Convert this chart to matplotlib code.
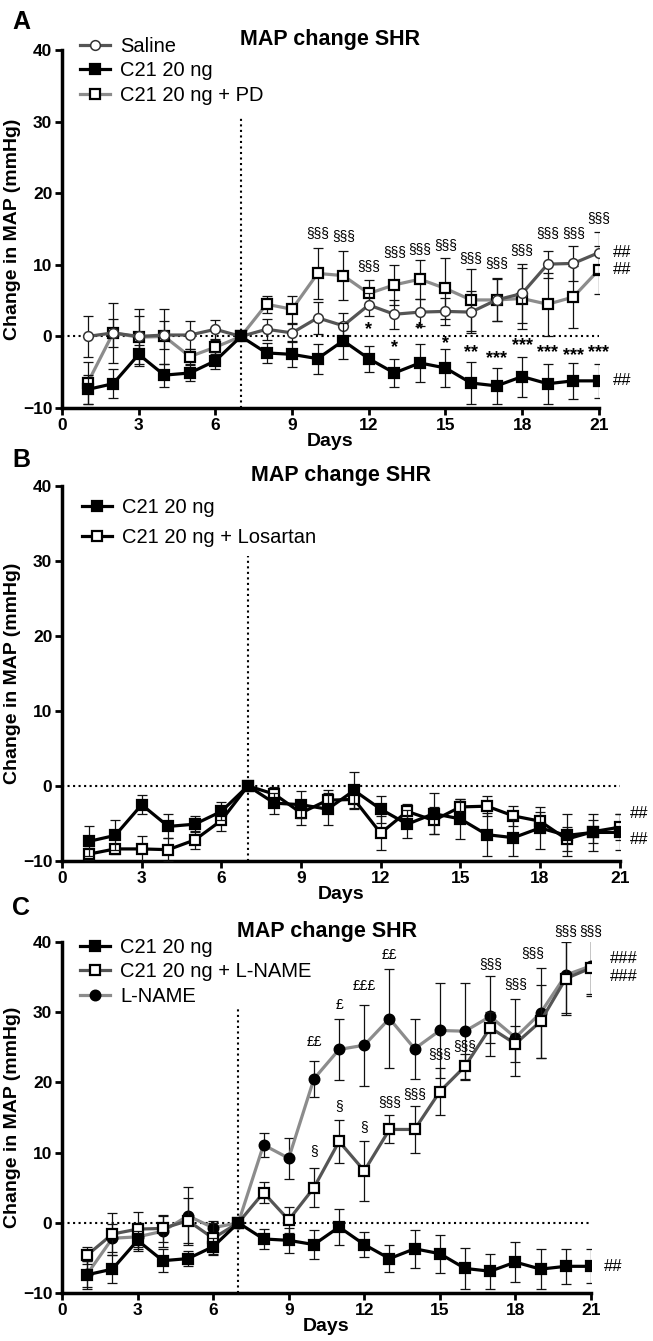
import matplotlib.pyplot as plt
import numpy as np

plt.rcParams['font.family'] = ['Liberation Sans', 'DejaVu Sans']

days = np.arange(1, 22)

# C21 20 ng (same series in all three panels)
c21 = [-7.4, -6.6, -2.5, -5.4, -5.1, -3.4, 0, -2.3, -2.5, -3.1, -0.6, -3.1, -5.1, -3.7, -4.4, -6.5, -6.9, -5.6, -6.6, -6.2, -6.2]
c21_err = [2.0, 2.0, 1.3, 1.6, 1.1, 1.2, 0, 1.4, 1.8, 2.1, 2.5, 1.8, 1.9, 2.7, 2.7, 2.9, 2.5, 2.8, 2.8, 2.5, 2.4]

# panel A
saline = [0.0, 0.5, 0.0, 0.2, 0.2, 1.0, 0, 1.0, 0.5, 2.6, 1.5, 4.4, 3.1, 3.4, 3.5, 3.4, 5.1, 6.0, 10.1, 10.2, 11.7]
saline_err = [2.8, 2.0, 2.9, 2.0, 2.0, 1.3, 0, 1.5, 1.3, 2.2, 1.8, 1.6, 2.0, 1.9, 1.9, 2.9, 2.9, 4.1, 1.9, 2.4, 2.9]
pd_ = [-6.5, 0.5, -0.1, 0.0, -2.8, -1.5, 0, 4.5, 3.8, 8.8, 8.5, 6.0, 7.2, 8.0, 6.7, 5.1, 5.1, 5.3, 4.5, 5.5, 9.3]
pd_err = [3.0, 4.2, 4.0, 3.9, 1.1, 1.0, 0, 1.2, 1.9, 3.5, 3.4, 1.9, 2.8, 2.7, 4.2, 4.3, 3.0, 4.3, 4.4, 4.3, 3.4]

# panel B
losartan = [-9.1, -8.4, -8.4, -8.5, -7.2, -4.6, 0, -1.1, -3.6, -1.9, -1.8, -6.3, -3.4, -4.6, -2.8, -2.7, -4.0, -4.7, -7.1, -6.1, -5.5]
losartan_err = [0.8, 0.7, 1.7, 1.5, 1.2, 1.4, 0, 1.0, 1.6, 1.3, 1.2, 2.3, 1.0, 1.8, 1.1, 1.3, 1.3, 1.2, 1.6, 1.5, 1.7]

# panel C
lname_c21 = [-4.6, -1.6, -0.9, -0.8, 0.3, -2.2, 0, 4.3, 0.4, 5.0, 11.6, 7.4, 13.3, 13.3, 18.7, 22.3, 27.8, 25.5, 28.7, 34.8, 36.3]
lname_c21_err = [1.2, 3.0, 2.5, 1.9, 3.2, 2.2, 0, 1.5, 1.9, 2.8, 3.1, 4.3, 2.0, 3.3, 3.4, 1.8, 2.2, 2.6, 5.2, 5.2, 4.0]
lname = [-7.3, -2.2, -2.0, -1.2, 1.0, -0.7, 0, 11.1, 9.2, 20.5, 24.7, 25.3, 29.1, 24.8, 27.4, 27.3, 29.4, 26.4, 29.9, 35.3, 36.6]
lname_err = [1.8, 2.0, 2.0, 2.2, 4.1, 1.0, 0, 1.7, 2.9, 2.6, 4.4, 5.8, 7.0, 4.3, 6.8, 6.9, 5.7, 5.5, 6.4, 5.4, 4.0]

# significance marks
sect_days_a = [10, 11, 12, 13, 14, 15, 16, 17, 18, 19, 20, 21]
sect_y_a = [14.4, 14.0, 9.8, 11.8, 12.2, 12.7, 11.0, 10.2, 12.1, 14.5, 14.5, 16.5]
star_days_a = [12, 13, 14, 15, 16, 17, 18, 19, 20, 21]
star_txt_a = ['*', '*', '*', '*', '**', '***', '***', '***', '***', '***']
star_y_a = [1.0, -1.6, 1.0, -1.0, -2.2, -3.1, -1.3, -2.3, -2.7, -2.2]
hash_y_a = [11.7, 9.3, -6.2]
hash_y_b = [-3.7, -7.2]

pound_days_c = [10, 11, 12, 13]
pound_txt_c = ['££', '£', '£££', '££']
pound_y_c = [25.7, 31.0, 33.7, 38.2]
sect_days_c = [10, 11, 12, 13, 14, 15, 16, 17, 18, 18.7, 20, 21]
sect_txt_c = ['§', '§', '§', '§§§', '§§§', '§§§', '§§§', '§§§', '§§§', '§§§', '§§§', '§§§']
sect_y_c = [10.2, 16.7, 13.6, 17.2, 18.3, 24.0, 25.2, 36.8, 34.0, 38.5, 41.5, 41.5]
hash_y_c = [37.6, 35.1]

fig = plt.figure(figsize=(6.53, 13.41), dpi=100)
axA = fig.add_axes([0.095, 0.6957, 0.822, 0.267])
axB = fig.add_axes([0.095, 0.358, 0.854, 0.2796])
axC = fig.add_axes([0.095, 0.0358, 0.810, 0.2617])


def style(ax):
    ax.set_xlim(0, 21)
    ax.set_ylim(-10, 40)
    ax.set_xticks(range(0, 22, 3))
    ax.set_yticks(range(-10, 41, 10))
    for s in ['top', 'right']:
        ax.spines[s].set_visible(False)
    for s in ['left', 'bottom']:
        ax.spines[s].set_linewidth(2.5)
    ax.tick_params(direction='out', length=5, width=2, labelsize=12.5, pad=2)
    for lab in ax.get_xticklabels() + ax.get_yticklabels():
        lab.set_fontweight('bold')
    ax.set_xlabel('Days', fontsize=14, fontweight='bold', labelpad=0)
    ax.set_ylabel('Change in MAP (mmHg)', fontsize=14, fontweight='bold', labelpad=1)
    ax.plot([0, 21], [0, 0], color='black', ls=':', lw=1.5, zorder=1, clip_on=False)
    ax.plot([7, 7], [-10, 30.7], color='black', ls=':', lw=1.5, zorder=1)
    ax.set_title('MAP change SHR', fontsize=15.5, fontweight='bold', pad=3)


def series(ax, y, err, lcolor, marker, mface, z, label, mec='black', mew=1.6):
    ax.errorbar(days, y, yerr=err, fmt='none', ecolor='#111111', elinewidth=0.9,
                capsize=3.6, capthick=0.9, zorder=z - 0.5)
    h, = ax.plot(days, y, color=lcolor, lw=2.3, marker=marker, ms=7,
                 mfc=mface, mec=mec, mew=mew, zorder=z, label=label)
    return h


for ax in [axA, axB, axC]:
    style(ax)

leg_kw = dict(bbox_transform=fig.transFigure, frameon=False, fontsize=14.5, handlelength=1.5,
              handletextpad=0.5, borderpad=0, borderaxespad=0, loc='upper left')

# Panel A
hA1 = series(axA, saline, saline_err, '#555555', 'o', 'white', 4, 'Saline', mec='#333333', mew=1.1)
hA3 = series(axA, pd_, pd_err, '#8c8c8c', 's', 'white', 3, 'C21 20 ng + PD')
hA2 = series(axA, c21, c21_err, 'black', 's', 'black', 5, 'C21 20 ng')
axA.legend(handles=[hA1, hA2, hA3], bbox_to_anchor=(0.122, 0.9725), labelspacing=0.27, **leg_kw)
for d, yv in zip(sect_days_a, sect_y_a):
    axA.text(d, yv, '§§§', ha='center', va='center', fontsize=10, clip_on=False)
for d, t, yv in zip(star_days_a, star_txt_a, star_y_a):
    axA.text(d, yv, t, ha='center', va='center', fontsize=13, fontweight='bold', clip_on=False)
for yv in hash_y_a:
    axA.text(21.55, yv, '##', ha='left', va='center', fontsize=12, clip_on=False)

# Panel B
hB1 = series(axB, c21, c21_err, 'black', 's', 'black', 5, 'C21 20 ng')
hB2 = series(axB, losartan, losartan_err, 'black', 's', 'white', 4, 'C21 20 ng + Losartan')
axB.legend(handles=[hB1, hB2], bbox_to_anchor=(0.125, 0.6285), labelspacing=0.55, **leg_kw)
for yv in hash_y_b:
    axB.text(21.4, yv, '##', ha='left', va='center', fontsize=12, clip_on=False)

# Panel C
hC1 = series(axC, c21, c21_err, 'black', 's', 'black', 5, 'C21 20 ng')
hC3 = series(axC, lname, lname_err, '#8c8c8c', 'o', 'black', 3, 'L-NAME')
hC2 = series(axC, lname_c21, lname_c21_err, '#555555', 's', 'white', 4, 'C21 20 ng + L-NAME')
axC.legend(handles=[hC1, hC2, hC3], bbox_to_anchor=(0.122, 0.3005), labelspacing=0.27, **leg_kw)
for d, t, yv in zip(pound_days_c, pound_txt_c, pound_y_c):
    axC.text(d, yv, t, ha='center', va='center', fontsize=10, clip_on=False)
for d, t, yv in zip(sect_days_c, sect_txt_c, sect_y_c):
    axC.text(d, yv, t, ha='center', va='center', fontsize=10, clip_on=False)
for yv in hash_y_c:
    axC.text(21.75, yv, '###', ha='left', va='center', fontsize=12, clip_on=False)
axC.text(21.5, c21[-1], '##', ha='left', va='center', fontsize=12, clip_on=False)

fig.text(0.032, 1 - 22 / 1341, 'A', fontsize=18, fontweight='bold', va='center', ha='center')
fig.text(0.032, 1 - 460 / 1341, 'B', fontsize=18, fontweight='bold', va='center', ha='center')
fig.text(0.032, 1 - 908 / 1341, 'C', fontsize=18, fontweight='bold', va='center', ha='center')

fig.savefig('out.png', dpi=100)
